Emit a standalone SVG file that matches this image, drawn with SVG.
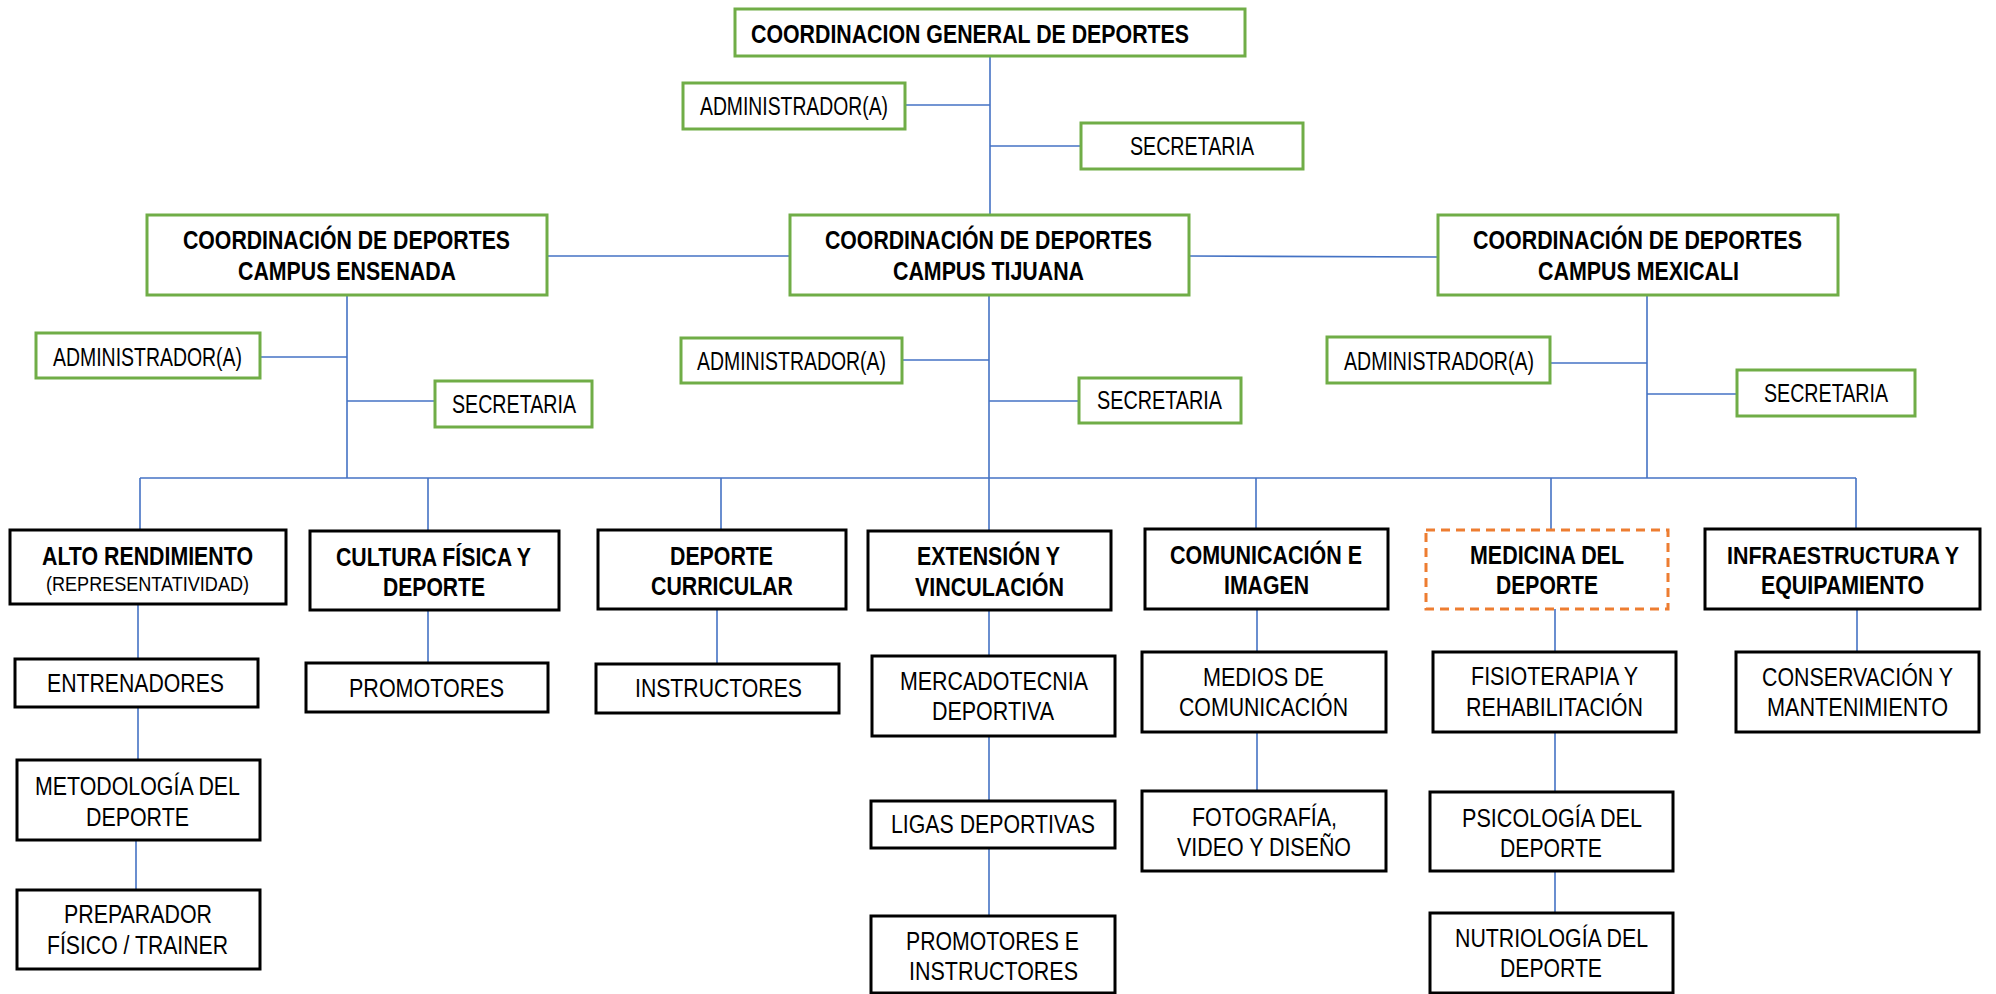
<svg xmlns="http://www.w3.org/2000/svg" width="1996" height="994" viewBox="0 0 1996 994">
<style>
.g{fill:#fff;stroke:#70AD47;stroke-width:3}
.k{fill:#fff;stroke:#000;stroke-width:3}
.o{fill:#fff;stroke:#ED7D31;stroke-width:3;stroke-dasharray:9 6}
.b{font-family:"Liberation Sans Narrow","Liberation Sans",Arial,sans-serif;font-weight:bold;font-size:26px;fill:#000;text-anchor:middle}
.r{font-family:"Liberation Sans Narrow","Liberation Sans",Arial,sans-serif;font-size:25px;fill:#000;text-anchor:middle}
.s{font-family:"Liberation Sans Narrow","Liberation Sans",Arial,sans-serif;font-size:21px;fill:#000;text-anchor:middle}
#connectors line{stroke:#4472C4;stroke-width:1.6}
</style>
<rect width="1996" height="994" fill="#fff"/>
<g id="connectors">
<line x1="990" y1="56" x2="990" y2="215"/>
<line x1="905" y1="105" x2="990" y2="105"/>
<line x1="990" y1="146" x2="1081" y2="146"/>
<line x1="547" y1="256" x2="790" y2="256"/>
<line x1="1189" y1="256" x2="1438" y2="257"/>
<line x1="347" y1="295" x2="347" y2="478"/>
<line x1="260" y1="357" x2="347" y2="357"/>
<line x1="347" y1="401" x2="435" y2="401"/>
<line x1="989" y1="295" x2="989" y2="531"/>
<line x1="902" y1="360" x2="989" y2="360"/>
<line x1="989" y1="401" x2="1079" y2="401"/>
<line x1="1647" y1="295" x2="1647" y2="478"/>
<line x1="1550" y1="363" x2="1647" y2="363"/>
<line x1="1647" y1="394" x2="1737" y2="394"/>
<line x1="140" y1="478" x2="1856" y2="478"/>
<line x1="140" y1="478" x2="140" y2="530"/>
<line x1="428" y1="478" x2="428" y2="531"/>
<line x1="721" y1="478" x2="721" y2="530"/>
<line x1="1256" y1="478" x2="1256" y2="529"/>
<line x1="1551" y1="478" x2="1551" y2="530"/>
<line x1="1856" y1="478" x2="1856" y2="529"/>
<line x1="138" y1="604" x2="138" y2="659"/>
<line x1="138" y1="707" x2="138" y2="760"/>
<line x1="136" y1="840" x2="136" y2="890"/>
<line x1="428" y1="610" x2="428" y2="663"/>
<line x1="717" y1="609" x2="717" y2="664"/>
<line x1="989" y1="610" x2="989" y2="656"/>
<line x1="989" y1="736" x2="989" y2="801"/>
<line x1="989" y1="848" x2="989" y2="916"/>
<line x1="1257" y1="609" x2="1257" y2="652"/>
<line x1="1257" y1="732" x2="1257" y2="791"/>
<line x1="1555" y1="609" x2="1555" y2="652"/>
<line x1="1555" y1="732" x2="1555" y2="792"/>
<line x1="1555" y1="871" x2="1555" y2="913"/>
<line x1="1857" y1="609" x2="1857" y2="652"/>
</g>
<g id="general"><rect class="g" x="735" y="9" width="510" height="47"/><text class="b" x="970" y="43" textLength="438" lengthAdjust="spacingAndGlyphs">COORDINACION GENERAL DE DEPORTES</text></g>
<g id="admin-general"><rect class="g" x="683" y="83" width="222" height="46"/><text class="r" x="794" y="115" textLength="188" lengthAdjust="spacingAndGlyphs">ADMINISTRADOR(A)</text></g>
<g id="sec-general"><rect class="g" x="1081" y="123" width="222" height="46"/><text class="r" x="1192" y="155" textLength="124" lengthAdjust="spacingAndGlyphs">SECRETARIA</text></g>
<g id="ensenada"><rect class="g" x="147" y="215" width="400" height="80"/><text class="b" x="346.5" y="249" textLength="327" lengthAdjust="spacingAndGlyphs">COORDINACIÓN DE DEPORTES</text><text class="b" x="347" y="280" textLength="218" lengthAdjust="spacingAndGlyphs">CAMPUS ENSENADA</text></g>
<g id="tijuana"><rect class="g" x="790" y="215" width="399" height="80"/><text class="b" x="988.5" y="249" textLength="327" lengthAdjust="spacingAndGlyphs">COORDINACIÓN DE DEPORTES</text><text class="b" x="988.5" y="280" textLength="191" lengthAdjust="spacingAndGlyphs">CAMPUS TIJUANA</text></g>
<g id="mexicali"><rect class="g" x="1438" y="215" width="400" height="80"/><text class="b" x="1637.5" y="249" textLength="329" lengthAdjust="spacingAndGlyphs">COORDINACIÓN DE DEPORTES</text><text class="b" x="1638.5" y="280" textLength="201" lengthAdjust="spacingAndGlyphs">CAMPUS MEXICALI</text></g>
<g id="admin-ens"><rect class="g" x="36" y="333" width="224" height="45"/><text class="r" x="147.5" y="366" textLength="189" lengthAdjust="spacingAndGlyphs">ADMINISTRADOR(A)</text></g>
<g id="sec-ens"><rect class="g" x="435" y="381" width="157" height="46"/><text class="r" x="514" y="413" textLength="124" lengthAdjust="spacingAndGlyphs">SECRETARIA</text></g>
<g id="admin-tij"><rect class="g" x="681" y="338" width="221" height="45"/><text class="r" x="791.5" y="370" textLength="189" lengthAdjust="spacingAndGlyphs">ADMINISTRADOR(A)</text></g>
<g id="sec-tij"><rect class="g" x="1079" y="378" width="162" height="45"/><text class="r" x="1159.5" y="409" textLength="125" lengthAdjust="spacingAndGlyphs">SECRETARIA</text></g>
<g id="admin-mex"><rect class="g" x="1327" y="337" width="223" height="46"/><text class="r" x="1439" y="370" textLength="190" lengthAdjust="spacingAndGlyphs">ADMINISTRADOR(A)</text></g>
<g id="sec-mex"><rect class="g" x="1737" y="370" width="178" height="46"/><text class="r" x="1826" y="402" textLength="124" lengthAdjust="spacingAndGlyphs">SECRETARIA</text></g>
<g id="alto"><rect class="k" x="10" y="530" width="276" height="74"/><text class="b" x="147.5" y="565" textLength="211" lengthAdjust="spacingAndGlyphs">ALTO RENDIMIENTO</text><text class="s" x="147.5" y="591" textLength="203" lengthAdjust="spacingAndGlyphs">(REPRESENTATIVIDAD)</text></g>
<g id="cultura"><rect class="k" x="310" y="531" width="249" height="79"/><text class="b" x="433.5" y="566" textLength="195" lengthAdjust="spacingAndGlyphs">CULTURA FÍSICA Y</text><text class="b" x="434" y="596" textLength="102" lengthAdjust="spacingAndGlyphs">DEPORTE</text></g>
<g id="curricular"><rect class="k" x="598" y="530" width="248" height="79"/><text class="b" x="721.5" y="565" textLength="103" lengthAdjust="spacingAndGlyphs">DEPORTE</text><text class="b" x="722" y="595" textLength="142" lengthAdjust="spacingAndGlyphs">CURRICULAR</text></g>
<g id="extension"><rect class="k" x="868" y="531" width="243" height="79"/><text class="b" x="988.5" y="565" textLength="143" lengthAdjust="spacingAndGlyphs">EXTENSIÓN Y</text><text class="b" x="989.5" y="596" textLength="149" lengthAdjust="spacingAndGlyphs">VINCULACIÓN</text></g>
<g id="comunicacion"><rect class="k" x="1145" y="529" width="243" height="80"/><text class="b" x="1266" y="564" textLength="192" lengthAdjust="spacingAndGlyphs">COMUNICACIÓN E</text><text class="b" x="1266.5" y="594" textLength="85" lengthAdjust="spacingAndGlyphs">IMAGEN</text></g>
<g id="medicina"><rect class="o" x="1426" y="530" width="242" height="79"/><text class="b" x="1547" y="564" textLength="154" lengthAdjust="spacingAndGlyphs">MEDICINA DEL</text><text class="b" x="1547" y="594" textLength="102" lengthAdjust="spacingAndGlyphs">DEPORTE</text></g>
<g id="infraestructura"><rect class="k" x="1705" y="529" width="275" height="80"/><text class="b" x="1843" y="564" style="font-size:23px" textLength="232" lengthAdjust="spacingAndGlyphs">INFRAESTRUCTURA Y</text><text class="b" x="1842.5" y="594" textLength="163" lengthAdjust="spacingAndGlyphs">EQUIPAMIENTO</text></g>
<g id="entrenadores"><rect class="k" x="15" y="659" width="243" height="48"/><text class="r" x="135.5" y="692" textLength="177" lengthAdjust="spacingAndGlyphs">ENTRENADORES</text></g>
<g id="metodologia"><rect class="k" x="17" y="760" width="243" height="80"/><text class="r" x="137.5" y="795" textLength="205" lengthAdjust="spacingAndGlyphs">METODOLOGÍA DEL</text><text class="r" x="137.5" y="826" textLength="103" lengthAdjust="spacingAndGlyphs">DEPORTE</text></g>
<g id="preparador"><rect class="k" x="17" y="890" width="243" height="79"/><text class="r" x="138" y="923" textLength="148" lengthAdjust="spacingAndGlyphs">PREPARADOR</text><text class="r" x="137.5" y="954" textLength="181" lengthAdjust="spacingAndGlyphs">FÍSICO / TRAINER</text></g>
<g id="promotores"><rect class="k" x="306" y="663" width="242" height="49"/><text class="r" x="426.5" y="697" textLength="155" lengthAdjust="spacingAndGlyphs">PROMOTORES</text></g>
<g id="instructores"><rect class="k" x="596" y="664" width="243" height="49"/><text class="r" x="718.5" y="697" textLength="167" lengthAdjust="spacingAndGlyphs">INSTRUCTORES</text></g>
<g id="mercadotecnia"><rect class="k" x="872" y="656" width="243" height="80"/><text class="r" x="994" y="690" textLength="188" lengthAdjust="spacingAndGlyphs">MERCADOTECNIA</text><text class="r" x="993" y="720" textLength="122" lengthAdjust="spacingAndGlyphs">DEPORTIVA</text></g>
<g id="ligas"><rect class="k" x="871" y="801" width="244" height="47"/><text class="r" x="993" y="833" textLength="204" lengthAdjust="spacingAndGlyphs">LIGAS DEPORTIVAS</text></g>
<g id="promotores-instructores"><rect class="k" x="871" y="916" width="244" height="77"/><text class="r" x="992.5" y="950" textLength="173" lengthAdjust="spacingAndGlyphs">PROMOTORES E</text><text class="r" x="993.5" y="980" textLength="169" lengthAdjust="spacingAndGlyphs">INSTRUCTORES</text></g>
<g id="medios"><rect class="k" x="1142" y="652" width="244" height="80"/><text class="r" x="1263.5" y="686" textLength="121" lengthAdjust="spacingAndGlyphs">MEDIOS DE</text><text class="r" x="1263.5" y="716" textLength="169" lengthAdjust="spacingAndGlyphs">COMUNICACIÓN</text></g>
<g id="fotografia"><rect class="k" x="1142" y="791" width="244" height="80"/><text class="r" x="1264.5" y="826" textLength="145" lengthAdjust="spacingAndGlyphs">FOTOGRAFÍA,</text><text class="r" x="1264" y="856" textLength="174" lengthAdjust="spacingAndGlyphs">VIDEO Y DISEÑO</text></g>
<g id="fisioterapia"><rect class="k" x="1433" y="652" width="243" height="80"/><text class="r" x="1554.5" y="685" textLength="167" lengthAdjust="spacingAndGlyphs">FISIOTERAPIA Y</text><text class="r" x="1554.5" y="716" textLength="177" lengthAdjust="spacingAndGlyphs">REHABILITACIÓN</text></g>
<g id="psicologia"><rect class="k" x="1430" y="792" width="243" height="79"/><text class="r" x="1552" y="827" textLength="180" lengthAdjust="spacingAndGlyphs">PSICOLOGÍA DEL</text><text class="r" x="1551" y="857" textLength="102" lengthAdjust="spacingAndGlyphs">DEPORTE</text></g>
<g id="nutriologia"><rect class="k" x="1430" y="913" width="243" height="80"/><text class="r" x="1551.5" y="947" textLength="193" lengthAdjust="spacingAndGlyphs">NUTRIOLOGÍA DEL</text><text class="r" x="1551" y="977" textLength="102" lengthAdjust="spacingAndGlyphs">DEPORTE</text></g>
<g id="conservacion"><rect class="k" x="1736" y="652" width="243" height="80"/><text class="r" x="1857.5" y="686" textLength="191" lengthAdjust="spacingAndGlyphs">CONSERVACIÓN Y</text><text class="r" x="1857.5" y="716" textLength="181" lengthAdjust="spacingAndGlyphs">MANTENIMIENTO</text></g>
</svg>
